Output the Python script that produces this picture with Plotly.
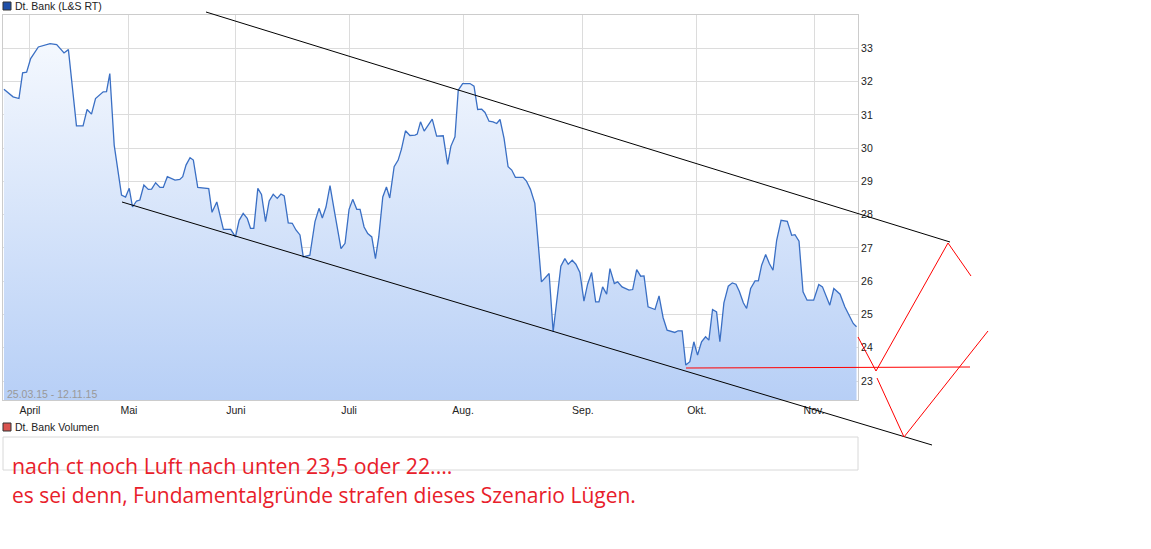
import plotly.graph_objects as go

# Kursverlauf Dt. Bank; x = Position auf der Handelstag-Achse (0 = 01.04.2015)
pos = [-7.1, -4.6, -3.0, -2.0, -0.9, 0.2, 2.3, 5.5, 7.3, 9.3, 10.5, 12.7, 14.5, 15.6, 16.8,
       17.9, 20.0, 20.9, 21.8, 23.0, 25.0, 26.1, 27.1, 28.0, 29.1, 30.0, 31.1, 32.3, 33.2,
       34.3, 35.5, 36.4, 37.5, 39.6, 40.9, 41.7, 42.6, 43.7, 44.6, 45.8, 48.8, 49.7, 51.0,
       52.8, 54.8, 56.1, 57.1, 58.2, 59.3, 60.2, 61.1, 62.2, 63.2, 64.3, 65.3, 66.4, 67.5,
       68.5, 69.4, 70.5, 71.6, 72.6, 73.7, 74.6, 76.4, 77.8, 78.9, 79.8, 80.8, 81.9, 83.2,
       84.9, 86.0, 87.1, 88.1, 89.2, 90.1, 91.2, 92.2, 93.3, 94.3, 95.2, 96.3, 97.3, 98.2,
       99.4, 100.5, 101.4, 102.5, 103.7, 105.1, 105.7, 106.6, 107.6, 109.8, 111.0, 112.8,
       114.0, 114.9, 116.0, 116.9, 118.1, 120.1, 121.2, 122.2, 123.3, 124.2, 125.3, 126.4,
       127.4, 128.3, 129.4, 130.5, 131.5, 132.5, 134.6, 135.5, 136.6, 137.8, 139.6, 141.7,
       142.8, 144.9, 146.0, 146.9, 148.0, 149.0, 150.1, 151.2, 152.2, 153.3, 154.4, 155.3,
       156.3, 157.4, 158.3, 159.5, 160.4, 161.6, 163.5, 164.5, 165.6, 166.7, 167.6, 168.7,
       170.6, 171.7, 172.8, 173.9, 176.0, 176.9, 178.0, 179.0, 180.1, 181.2, 182.2, 183.3,
       184.4, 185.3, 186.3, 187.4, 188.3, 189.4, 190.6, 191.7, 192.7, 193.6, 194.7, 195.6,
       196.7, 197.9, 198.8, 199.7, 200.8, 201.8, 202.8, 203.8, 205.0, 206.7, 207.9, 208.8,
       209.9, 211.0, 212.1, 213.9, 215.3, 216.3, 218.3, 219.4, 221.1, 222.4, 224.7, 225.6]
price = [31.77, 31.54, 31.49, 32.26, 32.28, 32.69, 33.04, 33.14, 33.11, 32.86, 32.96, 30.67,
         30.67, 31.16, 31.02, 31.49, 31.69, 31.70, 32.24, 30.09, 28.59, 28.53, 28.79, 28.23,
         28.41, 28.44, 28.89, 28.76, 28.77, 28.96, 28.82, 28.82, 29.14, 29.04, 29.06, 29.14,
         29.49, 29.71, 29.64, 28.82, 28.78, 28.07, 28.38, 27.56, 27.56, 27.33, 27.83, 28.04,
         27.89, 27.59, 27.59, 28.79, 28.61, 27.79, 28.41, 28.61, 28.49, 28.62, 28.56, 27.75,
         27.74, 27.54, 27.39, 26.73, 26.78, 27.79, 28.19, 27.90, 28.23, 28.87, 28.04, 26.98,
         27.14, 28.16, 28.46, 28.16, 28.16, 27.63, 27.43, 27.33, 26.68, 27.33, 28.53, 28.83,
         28.50, 29.44, 29.64, 29.97, 30.52, 30.38, 30.39, 30.42, 30.79, 30.51, 30.87, 30.36,
         30.37, 29.51, 30.06, 30.34, 31.74, 31.94, 31.94, 31.86, 31.16, 31.17, 31.07, 30.81,
         30.79, 30.74, 30.86, 30.29, 29.44, 29.34, 29.12, 29.12, 29.01, 28.76, 28.34, 25.98,
         26.23, 24.48, 26.45, 26.68, 26.51, 26.63, 26.51, 26.26, 25.40, 25.91, 26.26, 25.38,
         25.38, 25.83, 25.61, 26.38, 25.93, 25.98, 25.83, 25.73, 25.75, 26.35, 26.15, 26.16,
         25.23, 25.15, 25.56, 24.91, 24.53, 24.46, 24.51, 24.51, 23.48, 23.58, 24.18, 23.78,
         24.18, 24.33, 24.23, 25.15, 25.08, 24.18, 25.35, 25.85, 25.95, 25.91, 25.70, 25.35,
         25.18, 25.78, 26.01, 26.01, 26.48, 26.80, 26.53, 26.33, 27.23, 27.83, 27.80, 27.38,
         27.40, 27.20, 25.68, 25.43, 25.43, 25.90, 25.83, 25.28, 25.78, 25.61, 25.23, 24.73,
         24.63]

month_pos = [0, 27.0, 56.2, 87.1, 118.2, 150.9, 182.0, 214.0]
month_labels = ["April", "Mai", "Juni", "Juli", "Aug.", "Sep.", "Okt.", "Nov."]

y_min, y_max = 22.43, 34.0

W, H = 1151, 549
L, R, T, B = 3, 858, 15, 400  # plot area in pixels


def px(x, y):
    return (x - L) / (R - L), (B - y) / (B - T)


fig = go.Figure()
fig.add_trace(go.Scatter(x=[pos[0], pos[-1]], y=[y_min, y_min], mode="lines",
                         line=dict(width=0), hoverinfo="skip"))
fig.add_trace(go.Scatter(
    x=pos, y=price, mode="lines",
    line=dict(color="#3a6fc4", width=1.3),
    fill="tonexty",
    fillgradient=dict(type="vertical",
                      colorscale=[[0, "#b7cff6"], [1, "#f4f8fe"]]),
    hoverinfo="y",
))

shapes = []


def seg(x0, y0, x1, y1, color, w=1):
    a, b = px(x0, y0)
    c, d = px(x1, y1)
    shapes.append(dict(type="line", xref="paper", yref="paper", x0=a, y0=b, x1=c, y1=d,
                       line=dict(color=color, width=w)))


# Trendkanal
seg(206, 12, 950, 242, "black")
seg(122, 202, 932, 445, "black")
# Szenario
seg(686, 368, 970, 367, "red")
seg(858, 337, 876, 371, "red")
seg(876, 371, 948, 243, "red")
seg(948, 243, 971, 276, "red")
seg(877, 378, 904, 437, "red")
seg(904, 437, 988, 331, "red")

# Volumen-Panel
a, b = px(3, 437)
c, d = px(858, 470)
shapes.append(dict(type="rect", xref="paper", yref="paper", x0=a, y0=b, x1=c, y1=d,
                   line=dict(color="#d8d8d8", width=1), layer="below"))
# Legendensymbole
for (x0, y0, col) in [(3, 2, "#1f4fa8"), (3, 423, "#d9534f")]:
    a, b = px(x0, y0)
    c, d = px(x0 + 8, y0 + 8)
    shapes.append(dict(type="rect", xref="paper", yref="paper", x0=a, y0=b, x1=c, y1=d,
                       fillcolor=col, line=dict(color="#333", width=1)))

annotations = []


def txt(x, y, s, size=10.5, color="#222", family="Liberation Sans"):
    a, b = px(x, y)
    annotations.append(dict(xref="paper", yref="paper", x=a, y=b, text=s, showarrow=False,
                            xanchor="left", yanchor="middle",
                            font=dict(size=size, color=color, family=family)))


txt(13, 6, "Dt. Bank (L&S RT)")
txt(13, 427, "Dt. Bank Volumen")
txt(5, 394, "25.03.15 - 12.11.15", color="#999")
txt(10, 465, "nach ct noch Luft nach unten 23,5 oder 22....", size=21.3, color="#e8202a",
    family="Open Sans")
txt(10, 495, "es sei denn, Fundamentalgründe strafen dieses Szenario Lügen.", size=21,
    color="#e8202a", family="Open Sans")

fig.update_layout(
    width=W, height=H,
    margin=dict(l=L, r=W - R, t=T, b=H - B),
    plot_bgcolor="white", paper_bgcolor="white",
    showlegend=False,
    font=dict(family="Liberation Sans", size=10.5, color="#222"),
    shapes=shapes, annotations=annotations,
    xaxis=dict(range=[-7.35, 226.0], tickvals=month_pos,
               ticktext=month_labels, showgrid=True, gridcolor="#dcdcdc",
               showline=True, linecolor="#cccccc", mirror=True, ticks="", zeroline=False),
    yaxis=dict(range=[y_min, y_max], side="right", tickvals=list(range(23, 34)),
               showgrid=True, gridcolor="#dcdcdc", showline=True, linecolor="#cccccc",
               mirror=True, ticks="", zeroline=False),
)

fig.write_html("out.html", config={"displayModeBar": False},
               post_script="document.body.style.margin='0';")
